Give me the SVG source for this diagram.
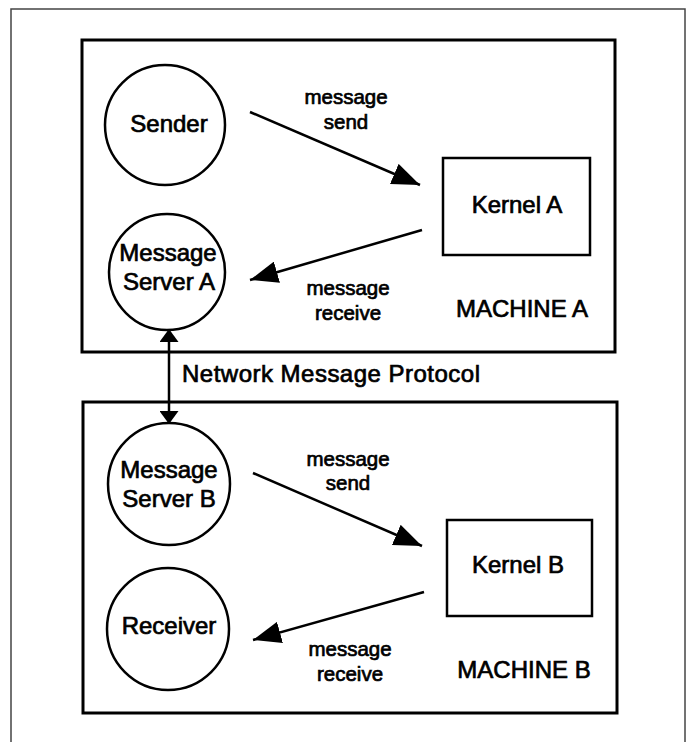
<svg xmlns="http://www.w3.org/2000/svg" width="688" height="742" viewBox="0 0 688 742">
  <defs>
    <marker id="head" viewBox="0 0 28 22" refX="28" refY="11" markerWidth="28" markerHeight="22" markerUnits="userSpaceOnUse" orient="auto">
      <path d="M0,0 L28,11 L0,22 Z" fill="#000"/>
    </marker>
    <marker id="tip" viewBox="0 0 13 19" refX="13" refY="9.5" markerWidth="13" markerHeight="19" markerUnits="userSpaceOnUse" orient="auto">
      <path d="M0,0 L13,9.5 L0,19 Z" fill="#000"/>
    </marker>
    <marker id="tipStart" viewBox="0 0 13 19" refX="0" refY="9.5" markerWidth="13" markerHeight="19" markerUnits="userSpaceOnUse" orient="auto">
      <path d="M13,0 L0,9.5 L13,19 Z" fill="#000"/>
    </marker>
  </defs>
  <style>
    .frame { fill: none; stroke: #444; stroke-width: 1.5; }
    .machine { fill: none; stroke: #000; stroke-width: 3; }
    .proc { fill: #fff; stroke: #000; stroke-width: 2.5; }
    .kernel { fill: #fff; stroke: #000; stroke-width: 2.5; }
    .conn { stroke: #000; stroke-width: 2.5; fill: none; }
    text { font-family: "Liberation Sans", Arial, sans-serif; fill: #000; stroke: #000; stroke-width: 0.7; }
    .big { font-size: 24px; text-anchor: middle; }
    .small { font-size: 20.5px; text-anchor: middle; }
    .proto { font-size: 24px; }
  </style>
  <rect fill="#fff" width="688" height="742"/>

  <!-- page frame -->
  <rect class="frame" x="11" y="9" width="674" height="760"/>

  <!-- machine enclosures -->
  <g id="machine-a">
    <rect class="machine" x="82" y="40" width="533" height="312"/>
    <text class="big" x="522" y="317">MACHINE A</text>
  </g>
  <g id="machine-b">
    <rect class="machine" x="83" y="402" width="534" height="311"/>
    <text class="big" x="524" y="678">MACHINE B</text>
  </g>

  <!-- nodes -->
  <g id="sender">
    <circle class="proc" cx="165" cy="125" r="60"/>
    <text class="big" x="169" y="132">Sender</text>
  </g>
  <g id="message-server-a">
    <circle class="proc" cx="167" cy="272" r="58"/>
    <text class="big" x="168" y="261">Message</text>
    <text class="big" x="169" y="290">Server A</text>
  </g>
  <g id="kernel-a">
    <rect class="kernel" x="443" y="158" width="147" height="97"/>
    <text class="big" x="517" y="213">Kernel A</text>
  </g>
  <g id="message-server-b">
    <circle class="proc" cx="169" cy="484" r="61"/>
    <text class="big" x="169" y="478">Message</text>
    <text class="big" x="169" y="507">Server B</text>
  </g>
  <g id="receiver">
    <circle class="proc" cx="168" cy="629" r="61"/>
    <text class="big" x="169" y="634">Receiver</text>
  </g>
  <g id="kernel-b">
    <rect class="kernel" x="447" y="520" width="145" height="96"/>
    <text class="big" x="518" y="573">Kernel B</text>
  </g>

  <!-- connectors -->
  <g id="connectors">
    <line class="conn" x1="250" y1="112" x2="420" y2="185" marker-end="url(#head)"/>
    <line class="conn" x1="422" y1="230" x2="250" y2="280" marker-end="url(#head)"/>
    <line class="conn" x1="253" y1="473" x2="422" y2="546" marker-end="url(#head)"/>
    <line class="conn" x1="424" y1="592" x2="253" y2="640" marker-end="url(#head)"/>
    <line class="conn" x1="169" y1="329" x2="169" y2="424" marker-start="url(#tipStart)" marker-end="url(#tip)"/>
  </g>

  <!-- connector labels -->
  <g id="labels">
    <text class="small" x="346" y="104">message</text>
    <text class="small" x="346" y="129">send</text>
    <text class="small" x="348" y="295">message</text>
    <text class="small" x="348" y="320">receive</text>
    <text class="small" x="348" y="466">message</text>
    <text class="small" x="348" y="490">send</text>
    <text class="small" x="350" y="656">message</text>
    <text class="small" x="350" y="681">receive</text>
    <text class="proto" x="182" y="382" textLength="298" lengthAdjust="spacing">Network Message Protocol</text>
  </g>
</svg>
